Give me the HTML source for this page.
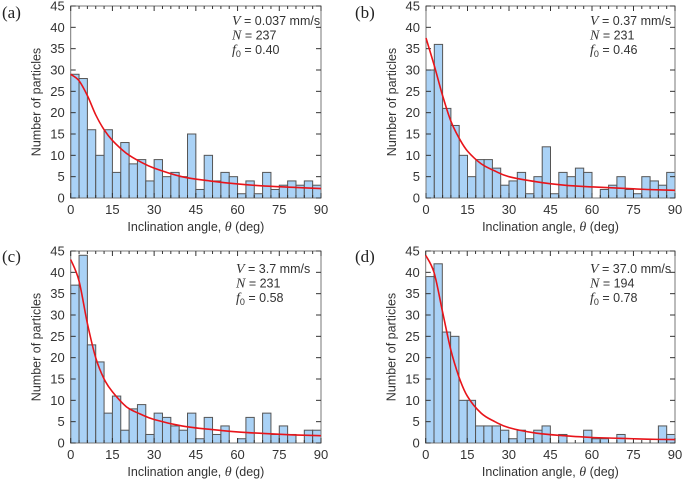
<!DOCTYPE html>
<html><head><meta charset="utf-8"><style>
body{margin:0;background:#fff;}
svg{display:block;font-family:"Liberation Sans",sans-serif;}
</style></head><body>
<svg id="fig" width="683" height="482" viewBox="0 0 683 482" xmlns="http://www.w3.org/2000/svg"></svg>
<script>
const binWidth = 3;
const yTicks = [0,5,10,15,20,25,30,35,40,45];
const xTicks = [0,15,30,45,60,75,90];
const curveAngles = [0,3,6,9,12,15,20,25,30,40,50,60,70,80,90];
const countsA = [29,28,16,10,16,6,13,8,9,4,9,5,6,5,15,2,10,4,6,5,1,4,1,6,2,3,4,3,4,3];
const countsB = [30,36,21,17,10,5,9,9,7,3,4,6,1,5,12,1,6,5,7,6,0,2,3,5,2,1,5,4,3,6];
const countsC = [37,44,23,19,7,11,3,8,9,2,7,6,4,3,7,1,6,2,4,0,1,6,0,7,2,4,2,0,3,3];
const countsD = [39,42,26,25,10,10,4,4,4,3,1,3,1,3,4,0,2,0,0,3,1,1,0,2,0,0,0,0,4,2];
const fitA = [29,27.5,24,19.5,16,13.5,10.5,8.5,7,5,4,3.3,2.8,2.5,2.2];
const fitB = [37.5,31,24,18,14,11,8,6.3,5,3.8,3,2.6,2.3,2,1.8];
const fitC = [43,38,28,20,15,12,8.5,6.8,5.5,4,3.2,2.6,2.2,1.9,1.7];
const fitD = [44,40,31,22,15.5,11,7,5,3.6,2.3,1.7,1.3,1.1,0.9,0.8];
const labels = ['(a)','(b)','(c)','(d)'];
const speeds = ['0.037 mm/s','0.37 mm/s','3.7 mm/s','37.0 mm/s'];
const nums = ['237','231','231','194'];
const f0s = ['0.40','0.46','0.58','0.78'];

const NS='http://www.w3.org/2000/svg';
const svg=document.getElementById('fig');
function mk(tag,attrs,parent){const e=document.createElementNS(NS,tag);for(const k in attrs)e.setAttribute(k,attrs[k]);(parent||svg).appendChild(e);return e;}
function smoothPath(P){
 let d='M'+P[0][0].toFixed(1)+','+P[0][1].toFixed(1);
 for(let i=0;i<P.length-1;i++){
  const p0=P[i-1]||P[i],p1=P[i],p2=P[i+1],p3=P[i+2]||p2;
  const c1=[p1[0]+(p2[0]-p0[0])/6,p1[1]+(p2[1]-p0[1])/6];
  const c2=[p2[0]-(p3[0]-p1[0])/6,p2[1]-(p3[1]-p1[1])/6];
  d+=` C${c1[0].toFixed(1)},${c1[1].toFixed(1)} ${c2[0].toFixed(1)},${c2[1].toFixed(1)} ${p2[0].toFixed(1)},${p2[1].toFixed(1)}`;
 }
 return d;
}

const panels=[
 {x0:70.7,x1:321,y0:198,y1:6,counts:countsA,fit:fitA,lx:2,ly:18,ax:232,ay:25},
 {x0:426,x1:675,y0:198,y1:6,counts:countsB,fit:fitB,lx:355,ly:18,ax:590,ay:25},
 {x0:70.7,x1:321,y0:443,y1:251,counts:countsC,fit:fitC,lx:2,ly:262,ax:236,ay:273},
 {x0:425.7,x1:675,y0:443,y1:251,counts:countsD,fit:fitD,lx:355,ly:262,ax:590,ay:273}
];
panels.forEach((p,i)=>{
 const g=mk('g',{});
 
 
 const xs=v=>p.x0+(p.x1-p.x0)*v/90;
 const ys=v=>p.y0-(p.y0-p.y1)*v/45;
 p.counts.forEach((c,j)=>{
  if(c<=0)return;
  const r=mk('rect',{x:xs(j*binWidth),y:ys(c),width:xs(binWidth)-xs(0),height:p.y0-ys(c),fill:'#aad2f6',stroke:'#555','stroke-width':1},g);
  
  
 });
 const fr=mk('rect',{x:p.x0,y:p.y1,width:p.x1-p.x0,height:p.y0-p.y1,fill:'none',stroke:'#777','stroke-width':1},g);
 
 
 for(let v=0;v<=90;v+=3){
  const x=xs(v),len=(v%15===0)?5:3;
  mk('line',{x1:x,x2:x,y1:p.y0,y2:p.y0-len,stroke:'#333'},g);
  mk('line',{x1:x,x2:x,y1:p.y1,y2:p.y1+len,stroke:'#333'},g);
 }
 yTicks.forEach(v=>{
  const y=ys(v);
  mk('line',{x1:p.x0,x2:p.x0+5,y1:y,y2:y,stroke:'#333'},g);
  mk('line',{x1:p.x1,x2:p.x1-5,y1:y,y2:y,stroke:'#333'},g);
  const t=mk('text',{x:p.x0-6,y:y+4.5,'text-anchor':'end','font-size':13,fill:'#333'},g);
  t.textContent=v;
  
  
 });
 xTicks.forEach(v=>{
  const t=mk('text',{x:xs(v),y:p.y0+16,'text-anchor':'middle','font-size':13,fill:'#333'},g);
  t.textContent=v;
  
  
 });
 const P=curveAngles.map((a,k)=>[xs(a),ys(p.fit[k])]);
 const pl=mk('path',{d:smoothPath(P),fill:'none',stroke:'#e8141a','stroke-width':1.6},g);
 
 
 const yt=mk('text',{x:0,y:0,transform:`translate(${p.x0-30},${(p.y0+p.y1)/2}) rotate(-90)`,'text-anchor':'middle','font-size':12.5,fill:'#333'},g);
 yt.textContent='Number of particles';
 
 
 const xt=mk('text',{x:(p.x0+p.x1)/2,y:p.y0+33,'text-anchor':'middle','font-size':12.5,fill:'#333'},g);
 xt.innerHTML='Inclination angle, <tspan font-family="Liberation Serif" font-style="italic" font-size="14">θ</tspan> (deg)';
 
 
 const lb=mk('text',{x:p.lx,y:p.ly,'font-size':17,'font-family':'Liberation Serif',fill:'#222'},g);
 lb.textContent=labels[i];
 
 
 const it='font-family="Liberation Serif" font-style="italic" font-size="14"';
 const lines=[`<tspan ${it}>V</tspan> = ${speeds[i]}`,`<tspan ${it}>N</tspan> = ${nums[i]}`,`<tspan ${it}>f</tspan><tspan font-size="9" dy="3">0</tspan><tspan dy="-3"> = ${f0s[i]}</tspan>`];
 lines.forEach((s,k)=>{
  const t=mk('text',{x:p.ax,y:p.ay+k*14.5,'font-size':12.5,fill:'#333'},g);
  t.innerHTML=s;
  
  
 });
});
</script>
</body></html>
